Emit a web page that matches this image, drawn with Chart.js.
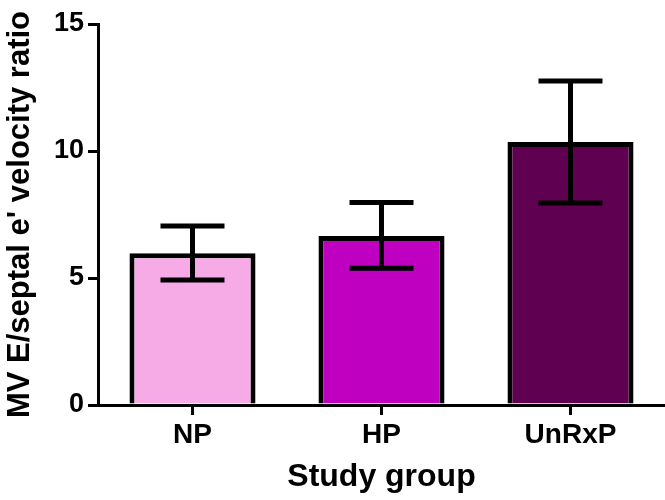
<!DOCTYPE html>
<html>
<head>
<meta charset="utf-8">
<script src="https://cdn.jsdelivr.net/npm/chart.js@4"></script>
<style>
  html, body { margin: 0; padding: 0; background: #fff; }
  #wrap { width: 665px; height: 500px; }
</style>
</head>
<body>
<div id="wrap"><canvas id="chart" width="665" height="500"></canvas></div>
<script>
// groups and values
var groups = ["NP", "HP", "UnRxP"];
var means = [5.97, 6.65, 10.35];
var errLow = [4.92, 5.38, 7.95];
var errHigh = [7.05, 7.97, 12.76];
var barColors = ["#F6AAE6", "#C000C0", "#600050"];
var yTicks = [0, 5, 10, 15];

// draws the error bars (whiskers with caps) on top of the bars
var errorBars = {
  id: "errorBars",
  afterDatasetsDraw: function(chart) {
    var ctx = chart.ctx;
    var x = chart.scales.x, y = chart.scales.y;
    ctx.save();
    ctx.strokeStyle = "#000";
    ctx.lineWidth = 5;
    ctx.lineCap = "butt";
    for (var i = 0; i < groups.length; i++) {
      var cx = x.getPixelForValue(i);
      var top = y.getPixelForValue(errHigh[i]);
      var bot = y.getPixelForValue(errLow[i]);
      ctx.beginPath();
      ctx.moveTo(cx, top);
      ctx.lineTo(cx, bot);
      ctx.moveTo(cx - 32, top);
      ctx.lineTo(cx + 32, top);
      ctx.moveTo(cx - 32, bot);
      ctx.lineTo(cx + 32, bot);
      ctx.stroke();
    }
    ctx.restore();
  }
};

Chart.defaults.font.family = "'Liberation Sans', Arial, sans-serif";
Chart.defaults.font.weight = "bold";
Chart.defaults.color = "#000";

new Chart(document.getElementById("chart"), {
  type: "bar",
  data: {
    labels: groups,
    datasets: [{
      data: means,
      backgroundColor: barColors,
      borderColor: "#000",
      borderWidth: 5,
      barPercentage: 0.667,
      categoryPercentage: 1.0
    }]
  },
  options: {
    responsive: false,
    animation: false,
    layout: { padding: { top: 24, right: 0, left: 0, bottom: 0 } },
    plugins: { legend: { display: false }, tooltip: { enabled: false } },
    scales: {
      x: {
        offset: true,
        grid: { display: true, offset: false, drawOnChartArea: false, drawTicks: true, tickLength: 10, color: "#000", lineWidth: 3 },
        border: { display: true, color: "#000", width: 3 },
        ticks: { font: { size: 28, weight: "bold" }, padding: 3, color: "#000" },
        title: { display: true, text: "Study group", font: { size: 32, weight: "bold" }, padding: { top: 0 }, color: "#000" },
        afterFit: function(s) { s.height = 95; }
      },
      y: {
        min: 0,
        max: 15,
        afterBuildTicks: function(s) { s.ticks = yTicks.map(function(v) { return { value: v }; }); },
        grid: { display: true, drawOnChartArea: false, drawTicks: true, tickLength: 10, color: "#000", lineWidth: 3 },
        border: { display: true, color: "#000", width: 3 },
        ticks: { font: { size: 27, weight: "bold" }, padding: 4, color: "#000" },
        title: { display: true, text: "MV E/septal e' velocity ratio", font: { size: 31, weight: "bold" }, padding: { top: 2, bottom: 0 }, color: "#000" },
        afterFit: function(s) { s.width = 98; }
      }
    }
  },
  plugins: [errorBars]
});
</script>
</body>
</html>
